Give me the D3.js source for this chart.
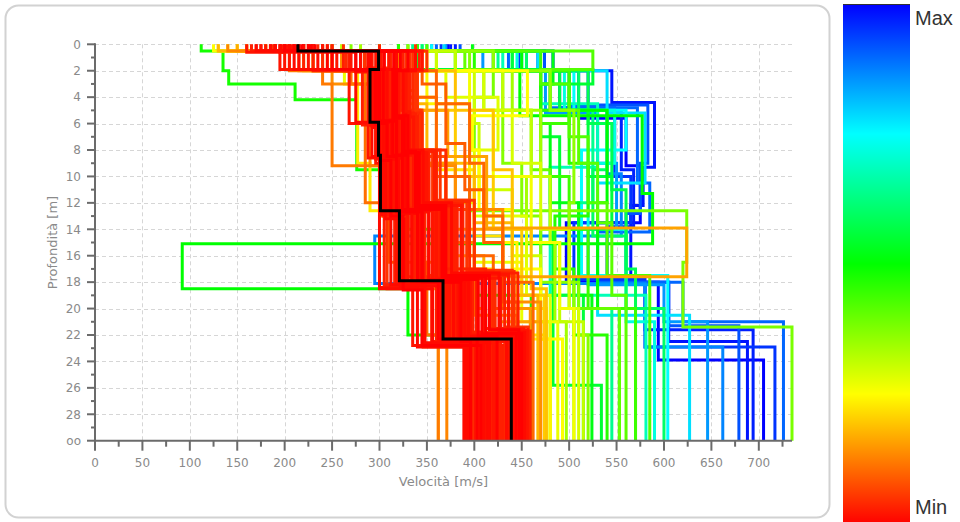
<!DOCTYPE html>
<html><head><meta charset="utf-8">
<script src="https://cdn.jsdelivr.net/npm/d3@7"></script>
<style>body{margin:0;background:#fff;overflow:hidden}</style>
</head><body><svg id="c" width="960" height="522"></svg>
<script>
// ---------- data ----------
const xTicks = [0,50,100,150,200,250,300,350,400,450,500,550,600,650,700];
const yTicks = [0,2,4,6,8,10,12,14,16,18,20,22,24,26,28,30];
const yTickLabels = ["0","2","4","6","8","10","12","14","16","18","20","22","24","26","28","oo"];
const colorStops = ["#ff0000","#ffff00","#00ff00","#00ffff","#0000ff"]; // Min .. Max
const halfSpace = 30;

// misfit (0 = Min, 1 = Max) of each tested model
const misfit = [
  1.0,0.97,0.95,0.92,0.9,0.87,0.85,0.98,
  0.75,0.78,0.68,0.72,0.64,
  0.48,0.5,0.52,0.55,0.5,0.58,
  0.38,0.36,0.4,0.34,0.42,0.37,
  0.25,0.27,0.23,0.3,0.26,0.28,
  0.16,0.12,0.13,0.15,0.18,0.11,0.2,0.14,0.1,
  0.05,0.04,0.03,0.05,0.02,0.04,0.01,0.03,0.02,0.04,0.0,0.03,0.01,0.02,0.04,0.05,
  0.01,0.03,0.02,0.0,0.04,0.01,0.03,0.02,0.05,0.01,0.0,0.02,0.03,0.01,0.0,0.02,
  0.09,0.17,0.19,0.1,0.14,0.08,
  0.24,0.29,0.22,0.31,
  0.41,0.44,0.46,0.6,0.56,
  0.02,0.01,0.03,0.0,0.04,0.02,0.05,0.03,0.01,0.04,0.02,0.0,
  0.03,0.05,0.01,0.02,0.04,0.0,0.03,0.02,0.05,0.01,0.03,0.02
];
// layer velocities [m/s]
const velocities = [
  [372,455,510,560,575,497,594,705],
  [380,467,520,555,568,540,580,694],
  [365,448,490,548,565,505,580,717],
  [385,474,500,583,575,560,605,679],
  [360,436,480,572,585,530,620,726],
  [355,420,470,540,555,295,580,662],
  [370,409,475,530,550,520,600,646],
  [375,483,545,590,578,565,605,688],
  [355,450,505,560,513,604],
  [368,467,540,580,530,627],
  [340,430,470,530,480,581],
  [345,445,495,548,520,560,590],
  [335,425,480,525,510,545],
  [112,135,141,211,276,330,380,460],
  [300,380,448,577,588,92,330,420],
  [398,483,470,480,510,524],
  [340,525,470,490,483,534],
  [320,450,500,540,530,553],
  [350,440,520,545,560,570],
  [250,380,420,400,395,624,620,735],
  [330,420,480,505,500,505],
  [300,390,430,460,480,500,553],
  [280,360,440,470,455,485,497],
  [350,525,470,500,520,540,585],
  [270,395,410,430,450,470,510,520],
  [125,300,456,398,405,440,470,493],
  [140,220,263,300,340,400,450,488],
  [150,245,277,290,380,420,474],
  [300,360,400,405,440,470,480],
  [220,350,395,420,460,490,505],
  [180,290,370,425,400,455,480],
  [230,320,340,372,413,624,427,470],
  [160,205,240,250,300,330,362],
  [140,215,285,300,340,360,371],
  [200,240,300,330,380,430,459],
  [130,260,320,350,400,440,467],
  [180,230,270,285,310,350,420],
  [200,250,330,380,420,450,474],
  [250,300,250,290,380,400,445],
  [190,280,330,360,395,420,440],
  [200,285,298,310,306,330,372,445],
  [230,312,295,305,322,342,382,455],
  [190,268,292,300,316,305,360,430],
  [220,332,305,320,332,352,396,458],
  [160,200,288,296,310,318,345,421],
  [240,300,312,332,342,362,402,450],
  [205,290,298,304,300,322,365,410],
  [215,342,322,315,336,366,412,452],
  [195,275,290,302,308,330,370,401],
  [225,322,300,326,346,374,422,448],
  [210,305,296,308,318,345,386,396],
  [250,345,332,336,352,382,432,459],
  [185,280,294,300,306,326,340,389],
  [220,310,315,318,326,356,392,442],
  [170,240,305,312,322,338,376,426],
  [245,335,338,342,356,392,442,457],
  [190,288,292,298,303,300,356,414],
  [230,325,312,322,336,362,402,436],
  [205,255,297,306,314,334,374,406],
  [215,315,318,330,342,370,416,447],
  [198,292,300,310,312,328,368,432],
  [225,338,325,328,346,376,426,453],
  [210,300,294,303,316,336,380,418],
  [240,345,328,332,348,386,436,456],
  [188,284,296,304,309,324,364,399],
  [220,318,308,318,328,352,390,440],
  [232,330,316,326,338,366,408,450],
  [202,296,302,314,324,344,382,412],
  [175,220,306,316,330,358,398,428],
  [196,290,300,308,320,340,378,392],
  [228,322,314,324,340,368,412,444],
  [208,302,298,306,318,342,386,422],
  [210,300,345,370,390,410,430,446],
  [150,230,300,340,360,380,410,362],
  [240,330,380,420,440,460,476],
  [220,310,360,395,410,430,462],
  [180,260,300,340,370,430,470],
  [230,300,320,345,370,400,440,452],
  [160,280,350,395,410,445,480],
  [200,320,410,440,470,500,510],
  [130,250,310,360,400,430,476],
  [260,380,430,460,480,490,515],
  [300,420,480,510,530,545,560],
  [340,470,500,470,500,520,570],
  [320,400,470,500,520,485,505,540],
  [345,455,510,540,525,560,600],
  [330,440,490,520,545,470,515],
  [180,195,268,288,300,300,335,390],
  [200,215,275,292,306,312,348,394],
  [165,230,282,296,312,316,355,397],
  [225,250,300,318,324,340,362,403],
  [190,265,310,326,334,348,375,404],
  [245,270,320,336,350,365,388,408],
  [338,350,300,300,304,308,346,391],
  [230,280,326,340,360,380,398,411],
  [170,210,296,308,320,334,366,416],
  [235,300,335,345,370,395,420,419],
  [195,225,290,305,316,352,384,420],
  [218,245,304,314,330,368,404,424],
  [205,262,312,322,340,378,410,425],
  [250,328,340,344,364,400,440,433],
  [185,235,300,312,328,346,394,434],
  [212,290,308,320,338,360,428,437],
  [240,310,318,328,352,372,436,438],
  [200,275,296,300,312,325,345,407],
  [228,318,330,338,358,388,446,441],
  [175,205,292,302,314,330,372,443],
  [262,336,322,334,350,376,418,446],
  [190,250,300,314,326,344,384,449],
  [300,305,315,326,344,364,404,451],
  [220,292,306,318,336,356,396,454]
];
// depth of the bottom of each layer [m] (last layer = half space)
const depths = [
  [0.5,2.0,5.6,9.2,13.5,18.0,23.9],
  [0.5,2.0,5.0,9.5,13.8,18.1,21.6],
  [0.5,1.9,4.8,10.0,13.5,17.8,22.9],
  [0.5,2.0,4.6,9.0,12.8,18.0,21.3],
  [0.5,2.0,4.8,10.5,14.2,18.0,21.0],
  [0.5,2.0,5.0,9.8,14.5,18.1,22.9],
  [0.5,1.9,5.2,9.0,14.0,18.2,21.0],
  [0.5,2.0,4.4,9.3,12.2,18.0,22.5],
  [0.5,1.9,5.0,8.0,17.5],
  [0.5,2.0,5.2,10.5,20.5],
  [0.5,1.9,4.5,9.3,19.0],
  [0.5,2.0,5.0,9.0,14.0,21.0],
  [0.5,2.0,5.0,12.0,20.0],
  [0.5,2.0,3.0,4.2,9.5,14.0,19.0],
  [0.5,2.0,5.4,11.3,15.1,18.5,22.0],
  [0.5,3.0,6.0,12.0,19.0],
  [1.9,3.0,7.0,14.0,25.8],
  [0.5,2.0,5.0,12.0,20.0],
  [0.5,2.0,6.0,11.0,17.0],
  [0.5,2.0,4.0,8.0,12.6,16.5,21.4],
  [0.5,2.0,5.0,12.0,18.0],
  [0.5,1.9,5.0,9.5,14.0,20.0],
  [0.5,2.0,5.0,10.0,15.0,21.0],
  [0.5,1.9,3.0,7.0,12.0,17.5],
  [0.5,2.0,5.0,9.0,13.0,18.0,22.0],
  [0.5,2.0,5.4,8.0,12.5,17.0,22.3],
  [0.5,2.0,3.0,8.0,12.0,16.5,21.0],
  [0.5,2.0,9.0,12.6,17.0,22.0],
  [0.5,2.0,6.0,11.0,16.0,21.0],
  [0.5,2.0,5.0,10.0,15.0,20.0],
  [0.5,2.0,4.0,8.0,13.0,19.0],
  [0.5,2.0,5.0,8.5,13.9,17.6,21.0],
  [0.5,2.0,3.0,9.2,13.0,18.5],
  [0.5,2.0,3.0,10.0,16.5,22.0],
  [0.5,2.0,4.0,9.0,14.0,20.0],
  [0.5,1.9,4.5,9.0,13.5,19.0],
  [0.5,2.0,3.0,12.0,16.5,22.0],
  [0.5,2.0,5.0,10.0,14.0,19.0],
  [0.5,2.0,3.0,9.2,15.0,20.5],
  [0.5,2.0,4.0,10.0,16.0,20.0],
  [0.5,1.8,6.0,8.6,12.8,17.6,22.5],
  [0.5,2.0,5.5,8.0,12.2,17.9,22.0],
  [0.5,1.9,6.2,8.8,13.0,18.2,22.8],
  [0.5,2.0,5.8,8.2,12.4,17.5,21.8],
  [0.6,1.9,6.0,9.0,12.8,18.0,22.6],
  [0.5,1.8,5.5,8.3,12.5,17.8,22.0],
  [0.5,2.0,6.0,8.5,12.6,18.3,22.3],
  [0.5,1.9,5.0,8.0,12.0,17.0,21.5],
  [0.6,2.1,6.1,8.7,12.9,18.1,22.4],
  [0.5,1.9,5.7,8.4,12.3,17.7,21.9],
  [0.5,1.9,6.0,8.5,12.7,18.0,22.5],
  [0.5,2.0,5.2,8.1,12.1,17.4,21.7],
  [0.5,1.9,6.3,9.0,13.2,18.4,22.9],
  [0.5,1.9,5.8,8.3,12.6,17.9,22.2],
  [0.5,2.0,5.9,8.6,12.6,17.8,22.1],
  [0.5,2.0,5.0,8.0,11.8,17.2,21.4],
  [0.5,1.8,6.0,8.6,12.9,18.5,22.6],
  [0.5,1.9,5.6,8.2,12.4,17.6,22.0],
  [0.5,1.9,5.9,8.5,12.7,18.0,22.4],
  [0.5,1.9,5.4,8.2,12.2,17.5,21.6],
  [0.5,2.0,6.1,8.7,12.7,17.9,22.2],
  [0.5,2.0,5.3,8.0,12.0,17.3,21.8],
  [0.5,1.9,6.0,8.4,12.5,18.1,22.3],
  [0.5,1.9,5.1,8.2,12.2,17.4,21.6],
  [0.5,1.9,6.2,8.9,13.0,18.2,22.7],
  [0.5,1.9,5.8,8.4,12.6,17.8,22.1],
  [0.5,2.0,5.5,8.1,12.3,17.6,21.9],
  [0.5,1.9,5.9,8.6,12.5,17.9,22.4],
  [0.5,1.9,5.7,8.3,12.4,17.7,22.0],
  [0.5,2.0,6.0,8.7,12.8,18.0,22.6],
  [0.5,1.9,5.6,8.2,12.3,17.6,21.9],
  [0.5,1.9,5.9,8.5,12.6,17.9,22.3],
  [0.5,2.0,3.0,7.5,11.0,15.0,19.5],
  [0.5,2.0,4.0,8.0,12.0,16.0,20.0],
  [0.5,2.0,5.0,9.5,14.0,18.5],
  [0.5,2.0,4.5,9.0,13.0,18.0],
  [0.5,2.0,3.5,8.5,12.5,19.5],
  [0.5,2.0,5.0,8.5,12.5,17.5,21.5],
  [0.5,2.0,4.5,10.0,15.0,22.3],
  [0.5,2.0,5.0,9.0,14.0,20.0],
  [0.5,2.0,4.0,9.5,14.5,20.0],
  [0.5,2.0,5.0,10.0,15.0,21.0],
  [0.5,2.0,5.0,9.0,13.5,19.0],
  [0.5,2.0,6.0,10.0,14.0,20.0],
  [0.5,2.0,5.0,9.0,13.0,17.0,22.0],
  [0.5,2.0,5.0,9.5,14.5,20.0],
  [0.5,2.0,5.0,10.0,14.0,19.0],
  [0.5,1.9,6.0,8.6,12.8,18.4,22.8],
  [0.5,1.9,5.9,8.5,12.6,18.2,22.6],
  [0.5,2.0,6.1,8.7,12.9,18.3,22.5],
  [0.5,1.9,5.8,8.4,12.5,17.9,22.3],
  [0.5,2.0,5.7,8.3,12.4,17.8,22.2],
  [0.5,1.9,5.5,8.2,12.2,17.6,22.0],
  [0.5,2.0,6.0,8.8,13.0,18.5,22.9],
  [0.5,1.9,5.4,8.1,12.1,17.4,21.8],
  [0.5,1.9,5.9,8.5,12.6,18.0,22.4],
  [0.5,2.0,5.2,8.0,11.9,17.2,21.6],
  [0.5,1.9,6.0,8.6,12.7,18.0,22.4],
  [0.5,1.9,5.8,8.4,12.5,17.8,22.1],
  [0.5,2.0,5.6,8.2,12.3,17.6,22.0],
  [0.5,2.0,5.0,8.0,11.8,17.1,21.4],
  [0.5,1.9,5.9,8.6,12.6,17.9,22.3],
  [0.5,1.9,5.7,8.3,12.4,17.7,21.9],
  [0.5,1.9,5.5,8.2,12.2,17.5,21.7],
  [0.5,2.0,6.1,8.8,13.0,18.6,22.8],
  [0.5,2.0,5.3,8.1,12.1,17.3,21.6],
  [0.5,1.9,6.0,8.6,12.7,18.1,22.5],
  [0.5,2.0,5.4,8.2,12.3,17.6,21.8],
  [0.5,1.9,5.8,8.5,12.6,17.9,22.3],
  [0.5,1.9,5.6,8.3,12.4,17.7,22.0],
  [0.5,1.9,5.7,8.4,12.5,17.8,22.1]
];
// best model (black)
const bestVelocities = [214,299,290,299,301,321,367,439];
const bestDepths = [0.5,1.9,5.9,8.4,12.6,17.9,22.3];

// ---------- drawing ----------
const svg = d3.select("#c");
const m = {left:95, right:792, top:44.3, bottom:440.7};
const x = d3.scaleLinear().domain([0,735]).range([m.left,m.right]);
const y = d3.scaleLinear().domain([0,30]).range([m.top,m.bottom]);
const color = d3.scaleLinear().domain([0,0.25,0.5,0.75,1]).range(colorStops);

// card
svg.append("rect").attr("x",5.5).attr("y",5.5).attr("width",824).attr("height",512)
  .attr("rx",13).attr("fill","#fff").attr("stroke","#d2d2d2").attr("stroke-width",2);

// grid
const grid = svg.append("g").attr("stroke","#d6d6d6").attr("stroke-width",1).attr("stroke-dasharray","4,3");
xTicks.filter(v=>v>0).forEach(v=>grid.append("line").attr("x1",Math.round(x(v))+0.5).attr("x2",Math.round(x(v))+0.5).attr("y1",m.top).attr("y2",m.bottom));
yTicks.filter(v=>v<30).forEach(v=>grid.append("line").attr("y1",Math.round(y(v))+0.5).attr("y2",Math.round(y(v))+0.5).attr("x1",m.left).attr("x2",m.right));

// profiles
function profilePoints(v,d){
  const pts=[[v[0],0]];
  for(let i=0;i<d.length;i++){pts.push([v[i],d[i]]);pts.push([v[i+1],d[i]]);}
  pts.push([v[v.length-1],halfSpace]);
  return pts;
}
const line = d3.line().x(p=>x(p[0])).y(p=>y(p[1]));
const n = Math.min(misfit.length, velocities.length, depths.length);
const order = d3.range(n).sort((a,b)=>misfit[b]-misfit[a]);
const plot = svg.append("g").attr("fill","none").attr("stroke-width",3).attr("stroke-linejoin","miter");
order.forEach(i=>{
  plot.append("path").attr("d",line(profilePoints(velocities[i],depths[i]))).attr("stroke",color(misfit[i]));
});
plot.append("path").attr("d",line(profilePoints(bestVelocities,bestDepths))).attr("stroke","#000").attr("stroke-width",3);

// axes
const axisColor="#6b6b6b", labelColor="#8a8a8a";
const ax = svg.append("g");
ax.append("line").attr("x1",m.left).attr("x2",m.left).attr("y1",m.top-1).attr("y2",m.bottom+1).attr("stroke",axisColor).attr("stroke-width",2);
ax.append("line").attr("x1",m.left-1).attr("x2",m.right).attr("y1",m.bottom).attr("y2",m.bottom).attr("stroke",axisColor).attr("stroke-width",2);
d3.range(0,736,25).forEach(v=>{
  const major = v%50===0;
  ax.append("line").attr("x1",x(v)).attr("x2",x(v)).attr("y1",m.bottom).attr("y2",m.bottom+(major?10:6)).attr("stroke",axisColor).attr("stroke-width",2);
});
d3.range(0,31,1).forEach(v=>{
  const major = v%2===0;
  ax.append("line").attr("x1",m.left).attr("x2",m.left-(major?8:4)).attr("y1",y(v)).attr("y2",y(v)).attr("stroke",axisColor).attr("stroke-width",2);
});
const tf = "DejaVu Sans, Verdana, sans-serif";
xTicks.forEach(v=>ax.append("text").attr("x",x(v)).attr("y",467).attr("text-anchor","middle").attr("font-family",tf).attr("font-size",12).attr("fill",labelColor).text(v));
yTicks.forEach((v,i)=>ax.append("text").attr("x",81).attr("y",y(v)+4.3).attr("text-anchor","end").attr("font-family",tf).attr("font-size",12).attr("fill",labelColor).text(yTickLabels[i]));
ax.append("text").attr("x",(m.left+m.right)/2).attr("y",486).attr("text-anchor","middle").attr("font-family",tf).attr("font-size",13).attr("fill",labelColor).text("Velocità [m/s]");
ax.append("text").attr("transform",`translate(57,${(m.top+m.bottom)/2}) rotate(-90)`).attr("text-anchor","middle").attr("font-family",tf).attr("font-size",13).attr("fill",labelColor).text("Profondità [m]");

// colour bar
const defs = svg.append("defs");
const grad = defs.append("linearGradient").attr("id","jet").attr("x1",0).attr("y1",1).attr("x2",0).attr("y2",0);
colorStops.forEach((c,i)=>grad.append("stop").attr("offset",i/(colorStops.length-1)).attr("stop-color",c));
svg.append("rect").attr("x",843).attr("y",4).attr("width",67).attr("height",520).attr("fill","url(#jet)");
svg.append("line").attr("x1",843).attr("x2",910).attr("y1",4.5).attr("y2",4.5).attr("stroke","#333").attr("stroke-width",1);
svg.append("text").attr("x",915).attr("y",25).attr("font-family","Liberation Sans, Arial, sans-serif").attr("font-size",20).attr("fill","#333").text("Max");
svg.append("text").attr("x",915).attr("y",514).attr("font-family","Liberation Sans, Arial, sans-serif").attr("font-size",20).attr("fill","#333").text("Min");
</script></body></html>
